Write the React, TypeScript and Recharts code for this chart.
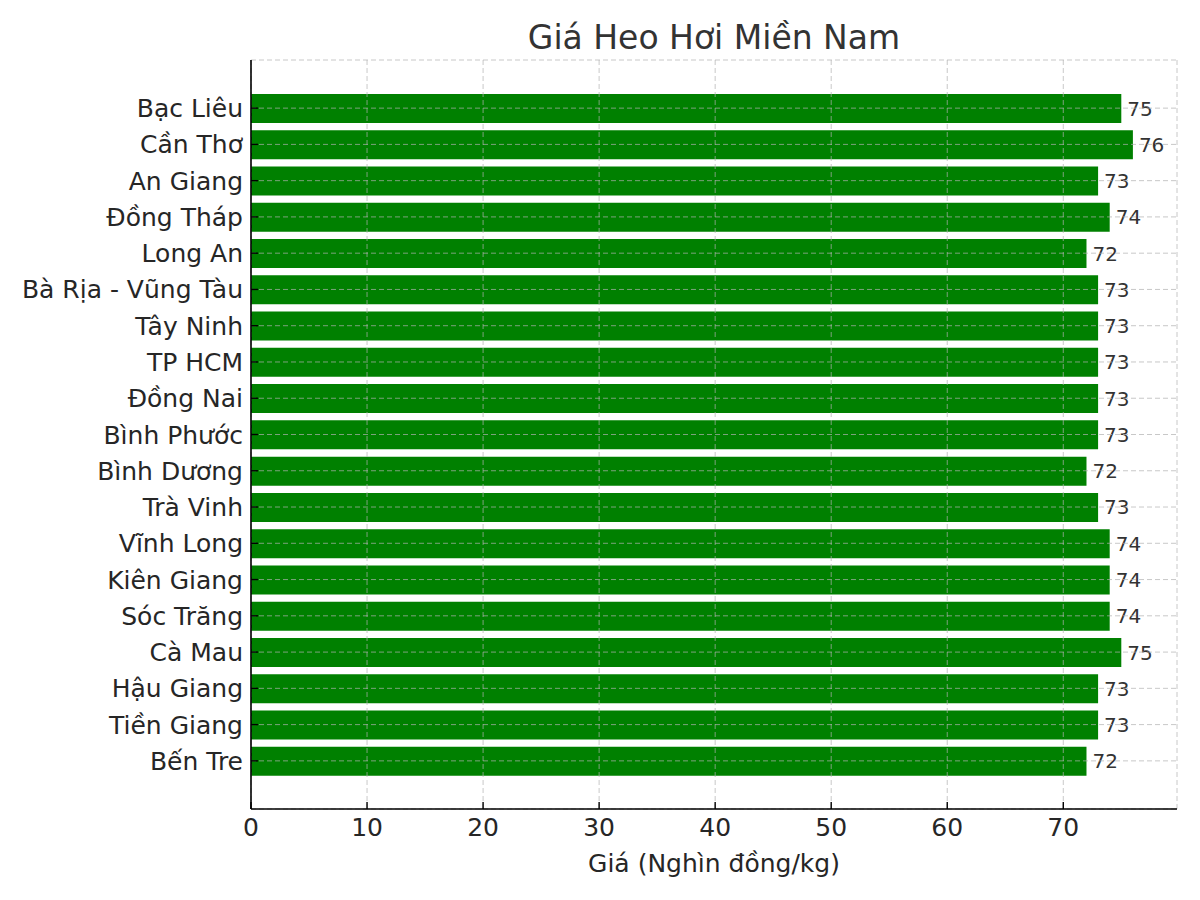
import React from 'react';
import { BarChart, Bar, XAxis, YAxis, CartesianGrid, LabelList } from 'recharts';

const provinces = [
  'Bạc Liêu', 'Cần Thơ', 'An Giang', 'Đồng Tháp', 'Long An', 'Bà Rịa - Vũng Tàu',
  'Tây Ninh', 'TP HCM', 'Đồng Nai', 'Bình Phước', 'Bình Dương', 'Trà Vinh',
  'Vĩnh Long', 'Kiên Giang', 'Sóc Trăng', 'Cà Mau', 'Hậu Giang', 'Tiền Giang', 'Bến Tre',
];
const prices = [75, 76, 73, 74, 72, 73, 73, 73, 73, 73, 72, 73, 74, 74, 74, 75, 73, 73, 72];
const xTicks = [0, 10, 20, 30, 40, 50, 60, 70];
const xDomain = [0, 79.8];
const title = 'Giá Heo Hơi Miền Nam';
const xLabel = 'Giá (Nghìn đồng/kg)';

const data = provinces.map((name, i) => ({ name, price: prices[i] }));

const FONT = '"DejaVu Sans", sans-serif';
const TEXT = '#262626';
const TICK_FS = 25;

const XTick = (props: any) => {
  const { x, y, payload } = props;
  return (
    <g>
      <line x1={x} x2={x} y1={y} y2={y - 7} stroke="#000" strokeWidth={1.4} />
      <text x={x} y={y + 27} textAnchor="middle" fontSize={TICK_FS} fill={TEXT} fontFamily={FONT}>
        {payload.value}
      </text>
    </g>
  );
};

const YTick = (props: any) => {
  const { x, y, payload } = props;
  return (
    <g>
      <line x1={x} x2={x + 7} y1={y} y2={y} stroke="#000" strokeWidth={1.4} />
      <text x={x - 8} y={y} dy="0.36em" textAnchor="end" fontSize={TICK_FS} fill={TEXT} fontFamily={FONT}>
        {payload.value}
      </text>
    </g>
  );
};

const MARGIN = { top: 60, right: 23, bottom: 0, left: 0 };

export default function App() {
  return (
    <div style={{ position: 'absolute', left: 0, top: 0, width: 1200, height: 900, background: '#fff', fontFamily: FONT }}>
      {/* bars layer */}
      <div style={{ position: 'absolute', left: 0, top: 0 }}>
        <BarChart width={1200} height={900} data={data} layout="vertical" margin={MARGIN}>
          <XAxis
            type="number"
            domain={xDomain}
            ticks={xTicks}
            allowDataOverflow
            tick={false}
            tickLine={false}
            axisLine={false}
            height={91}
          />
          <YAxis
            type="category"
            dataKey="name"
            width={251}
            tick={false}
            tickLine={false}
            axisLine={false}
            interval={0}
            padding={{ top: 30, bottom: 30 }}
          />
          <Bar dataKey="price" fill="#008000" barSize={29} isAnimationActive={false}>
            <LabelList
              dataKey="price"
              position="right"
              offset={6}
              fontSize={20}
              fill="#333"
              fontFamily={FONT}
            />
          </Bar>
        </BarChart>
      </div>
      {/* grid + axes layer on top */}
      <div style={{ position: 'absolute', left: 0, top: 0, pointerEvents: 'none' }}>
        <BarChart width={1200} height={900} data={data} layout="vertical" margin={MARGIN}>
          <CartesianGrid stroke="#b0b0b0" strokeOpacity={0.7} strokeDasharray="5 3" strokeWidth={1} />
          <XAxis
            type="number"
            domain={xDomain}
            ticks={xTicks}
            allowDataOverflow
            tick={<XTick />}
            tickLine={false}
            tickSize={0}
            tickMargin={0}
            axisLine={{ stroke: '#000', strokeWidth: 1.6 }}
            height={91}
          />
          <YAxis
            type="category"
            dataKey="name"
            width={251}
            tick={<YTick />}
            tickLine={false}
            tickSize={0}
            tickMargin={0}
            interval={0}
            padding={{ top: 30, bottom: 30 }}
            axisLine={{ stroke: '#000', strokeWidth: 1.6 }}
          />
          <Bar dataKey="price" fill="none" fillOpacity={0} barSize={29} isAnimationActive={false} />
        </BarChart>
      </div>
      <svg
        width={1200}
        height={900}
        style={{ position: 'absolute', left: 0, top: 0, pointerEvents: 'none' }}
      >
        <text x={714} y={49} textAnchor="middle" fontSize={33} fill="#333" fontFamily={FONT}>
          {title}
        </text>
        <text x={714} y={872} textAnchor="middle" fontSize={TICK_FS} fill={TEXT} fontFamily={FONT}>
          {xLabel}
        </text>
      </svg>
    </div>
  );
}
